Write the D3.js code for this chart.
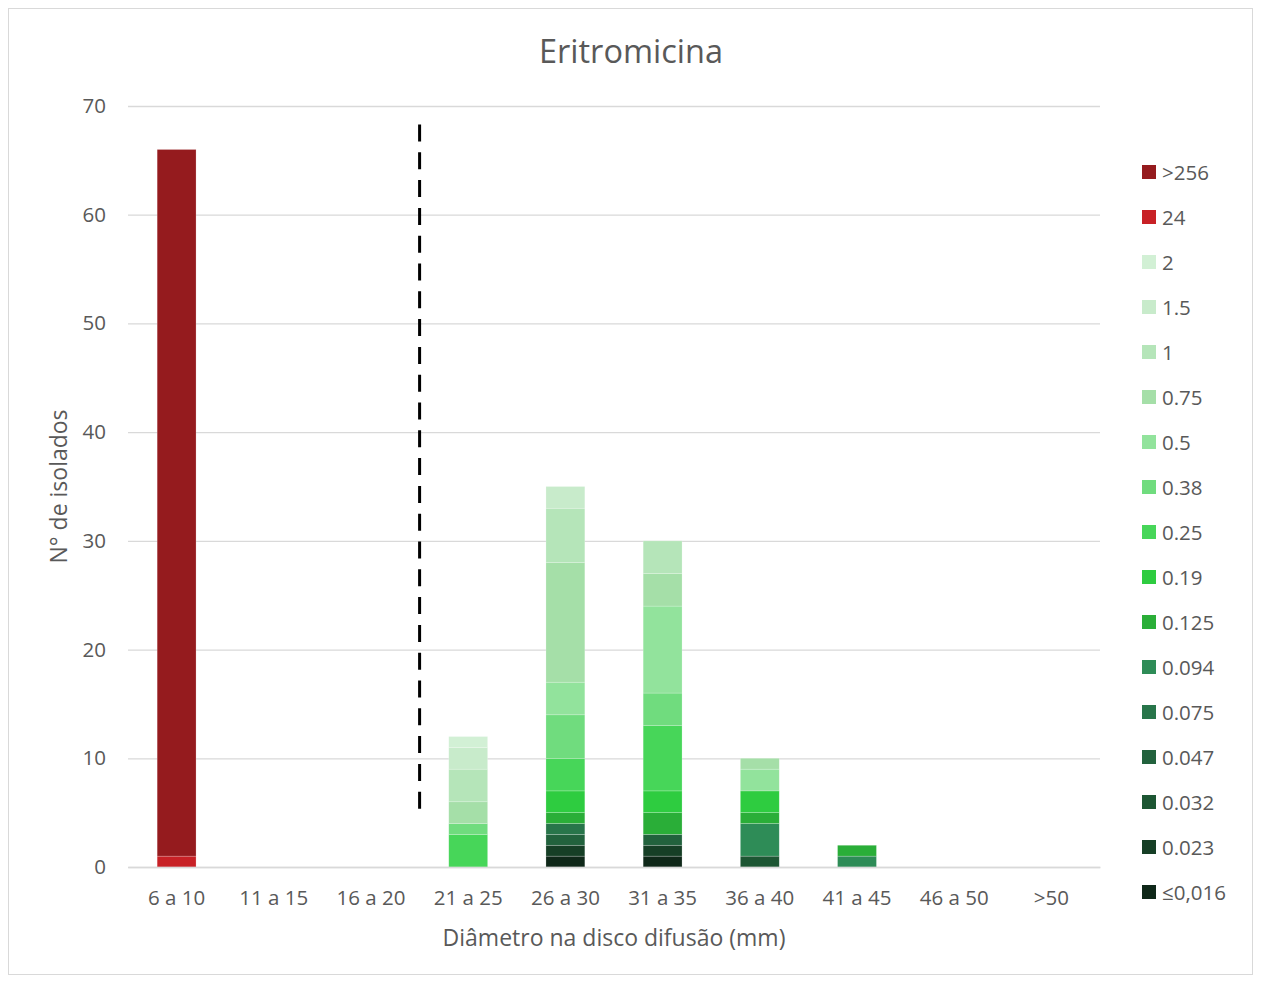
<!DOCTYPE html>
<html>
<head>
<meta charset="utf-8">
<script src="https://cdn.jsdelivr.net/npm/d3@7"></script>
<style>
  html, body { margin: 0; padding: 0; background: #fff; }
  svg { display: block; font-family: "Open Sans", Lato, sans-serif; }
</style>
</head>
<body>
<svg id="chart" width="1261" height="981"></svg>
<script>
// Inhibition-zone diameter classes (mm)
const categories = ["6 a 10", "11 a 15", "16 a 20", "21 a 25", "26 a 30", "31 a 35", "36 a 40", "41 a 45", "46 a 50", ">50"];

// MIC classes, stacked bottom to top; legend lists them top to bottom
const micLabels = ["≤0,016", "0.023", "0.032", "0.047", "0.075", "0.094", "0.125", "0.19", "0.25", "0.38", "0.5", "0.75", "1", "1.5", "2", "24", ">256"];
const micColors = ["#0f2819", "#163f26", "#1d5633", "#22623d", "#28754a", "#2e8c57", "#2aae38", "#2ecc40", "#47d659", "#70dc7e", "#92e39c", "#a5dfa8", "#b5e5b9", "#c8ebcb", "#d2f0d5", "#c82126", "#951b1e"];

// Number of isolates per MIC class in each diameter class
const micLe016 = [0, 0, 0, 0, 1, 1, 0, 0, 0, 0];
const mic0023  = [0, 0, 0, 0, 1, 1, 0, 0, 0, 0];
const mic0032  = [0, 0, 0, 0, 0, 0, 1, 0, 0, 0];
const mic0047  = [0, 0, 0, 0, 1, 1, 0, 0, 0, 0];
const mic0075  = [0, 0, 0, 0, 1, 0, 0, 0, 0, 0];
const mic0094  = [0, 0, 0, 0, 0, 0, 3, 1, 0, 0];
const mic0125  = [0, 0, 0, 0, 1, 2, 1, 1, 0, 0];
const mic019   = [0, 0, 0, 0, 2, 2, 2, 0, 0, 0];
const mic025   = [0, 0, 0, 3, 3, 6, 0, 0, 0, 0];
const mic038   = [0, 0, 0, 1, 4, 3, 0, 0, 0, 0];
const mic05    = [0, 0, 0, 0, 3, 8, 2, 0, 0, 0];
const mic075   = [0, 0, 0, 2, 11, 3, 1, 0, 0, 0];
const mic1     = [0, 0, 0, 3, 5, 3, 0, 0, 0, 0];
const mic15    = [0, 0, 0, 2, 2, 0, 0, 0, 0, 0];
const mic2     = [0, 0, 0, 1, 0, 0, 0, 0, 0, 0];
const mic24    = [1, 0, 0, 0, 0, 0, 0, 0, 0, 0];
const mic256   = [65, 0, 0, 0, 0, 0, 0, 0, 0, 0];

const seriesValues = [micLe016, mic0023, mic0032, mic0047, mic0075, mic0094, mic0125, mic019, mic025, mic038, mic05, mic075, mic1, mic15, mic2, mic24, mic256];

const yTicks = [0, 10, 20, 30, 40, 50, 60, 70];

// Breakpoint line: between the 16–20 and 21–25 classes, spanning these counts
const breakpointAfter = "16 a 20";
const breakpointFrom = 5.2;
const breakpointTo = 68.3;

// Table for d3.stack
const table = categories.map((c, i) => {
  const row = { cat: c };
  micLabels.forEach((m, j) => { row[m] = seriesValues[j][i]; });
  return row;
});

const svg = d3.select("#chart");
const W = 1261, H = 981;
const margin = { left: 128, right: 161, top: 106, bottom: 114 };
const plotW = W - margin.left - margin.right;
const plotH = H - margin.top - margin.bottom;
const textColor = "#595959";
const tickFont = 20.5;

// Outer chart frame
svg.append("rect")
  .attr("x", 8.5).attr("y", 8.5)
  .attr("width", W - 17).attr("height", H - 15)
  .attr("fill", "#fff").attr("stroke", "#d9d9d9").attr("stroke-width", 1);

const g = svg.append("g").attr("transform", `translate(${margin.left},${margin.top})`);

const x = d3.scaleBand().domain(categories).range([0, plotW]).paddingInner(0.6).paddingOuter(0.3);
const y = d3.scaleLinear().domain([0, 70]).range([plotH, 0]);

// Gridlines + y tick labels
const yAxis = d3.axisLeft(y).tickValues(yTicks).tickSize(-plotW).tickPadding(22);
const yG = g.append("g").call(yAxis);
yG.select(".domain").remove();
yG.selectAll(".tick line").attr("stroke", "#d9d9d9").attr("stroke-width", 1.3);
yG.selectAll(".tick text").attr("fill", textColor).attr("font-size", tickFont).attr("font-family", "'Open Sans', sans-serif");

// Stacked bars
const stack = d3.stack().keys(micLabels);
const layers = stack(table);
const layerG = g.append("g").selectAll("g")
  .data(layers)
  .join("g")
  .attr("fill", (d, i) => micColors[i]);
layerG.selectAll("rect")
  .data(d => d.filter(s => s[1] - s[0] > 0))
  .join("rect")
  .attr("x", d => x(d.data.cat))
  .attr("width", x.bandwidth())
  .attr("y", d => y(d[1]))
  .attr("height", d => y(d[0]) - y(d[1]))
  .attr("stroke", "rgba(255,255,255,0.35)")
  .attr("stroke-width", 0.6);

// X axis baseline and labels
const xAxis = d3.axisBottom(x).tickSize(0).tickPadding(23);
const xG = g.append("g").attr("transform", `translate(0,${plotH})`).call(xAxis);
xG.select(".domain").attr("stroke", "#d9d9d9").attr("stroke-width", 1.3);
xG.selectAll(".tick text").attr("fill", textColor).attr("font-size", tickFont).attr("font-family", "'Open Sans', sans-serif");

// Breakpoint dashed line
const bx = x(breakpointAfter) + x.bandwidth() / 2 + x.step() / 2;
g.append("line")
  .attr("x1", bx).attr("x2", bx)
  .attr("y1", y(breakpointTo)).attr("y2", y(breakpointFrom))
  .attr("stroke", "#000").attr("stroke-width", 3)
  .attr("stroke-dasharray", "17,10.8");

// Title
svg.append("text")
  .attr("x", 631).attr("y", 63)
  .attr("text-anchor", "middle")
  .attr("fill", textColor).attr("font-size", 32.5)
  .text("Eritromicina");

// Axis titles
svg.append("text")
  .attr("x", margin.left + plotW / 2).attr("y", 946)
  .attr("text-anchor", "middle")
  .attr("fill", textColor).attr("font-size", 23)
  .text("Diâmetro na disco difusão (mm)");

svg.append("text")
  .attr("transform", `translate(67,${margin.top + plotH / 2}) rotate(-90)`)
  .attr("text-anchor", "middle")
  .attr("fill", textColor).attr("font-size", 23)
  .text("N° de isolados");

// Legend (top series first)
const legendOrder = micLabels.map((m, i) => ({ label: m, color: micColors[i] })).reverse();
const legend = svg.append("g").attr("transform", "translate(1142,172)");
const li = legend.selectAll("g").data(legendOrder).join("g")
  .attr("transform", (d, i) => `translate(0,${i * 45})`);
li.append("rect").attr("x", 0).attr("y", -7).attr("width", 14).attr("height", 14).attr("fill", d => d.color);
li.append("text").attr("x", 20).attr("y", 7.5)
  .attr("fill", textColor).attr("font-size", tickFont)
  .text(d => d.label);
</script>
</body>
</html>
